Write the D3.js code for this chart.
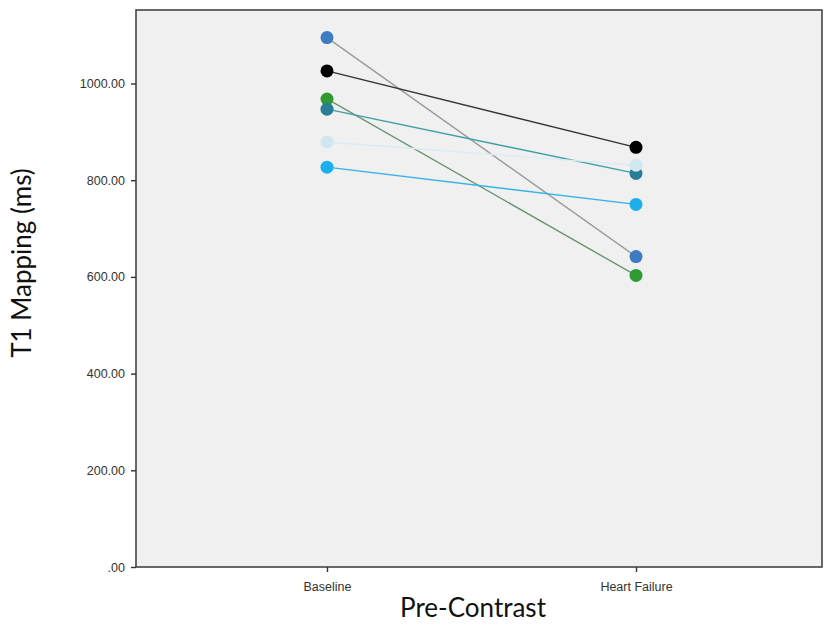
<!DOCTYPE html>
<html><head><meta charset="utf-8">
<script src="https://cdn.jsdelivr.net/npm/d3@7"></script>
<style>body{margin:0;background:#fff;} svg{display:block;}</style>
</head><body>
<svg id="chart" width="825" height="634"></svg>
<script>
const categories = ["Baseline", "Heart Failure"];
const subjects = ["s1", "s2", "s3", "s4", "s5", "s6"];
const baselineValues = [1095, 1026, 968, 947, 879, 827];
const heartFailureValues = [642, 868, 603, 814, 831, 750];
const pointColors = ["#3d7cc0", "#000000", "#2f9a32", "#2a7d96", "#cfe7ee", "#1bb0ec"];
const lineColors = ["#9a9a9a", "#333333", "#6b9470", "#3e9ea8", "#d9ecf1", "#35b2e6"];
const yTicks = [0, 200, 400, 600, 800, 1000];

(function () {
const svg = d3.select("#chart");
const pLeft = 136, pRight = 822, pTop = 10, pBottom = 567;

const x = d3.scalePoint().domain(categories).range([327, 636]);
const y = d3.scaleLinear().domain([0, 1000]).range([pBottom, 83.5]);

svg.append("rect").attr("x", pLeft).attr("y", pTop).attr("width", pRight - pLeft).attr("height", pBottom - pTop)
  .attr("fill", "#f0f0f0");

svg.append("rect").attr("x", pLeft).attr("y", pTop).attr("width", pRight - pLeft).attr("height", pBottom - pTop)
  .attr("fill", "none").attr("stroke", "#444").attr("stroke-width", 1.6);

const yAxis = d3.axisLeft(y).tickValues(yTicks).tickSize(5).tickPadding(6)
  .tickFormat(d => d === 0 ? ".00" : d3.format(".2f")(d));
const gy = svg.append("g").attr("transform", `translate(${pLeft},0)`).call(yAxis);
gy.select(".domain").remove();
gy.selectAll("line").attr("stroke", "#333").attr("stroke-width", 1.4);
gy.selectAll("text").attr("font-family", "Liberation Sans, Arial, sans-serif").attr("font-size", 12.5).attr("fill", "#333");

const xAxis = d3.axisBottom(x).tickSize(5).tickPadding(10);
const gx = svg.append("g").attr("transform", `translate(0,${pBottom})`).call(xAxis);
gx.select(".domain").remove();
gx.selectAll("line").attr("stroke", "#333").attr("stroke-width", 1.4);
gx.selectAll("text").attr("font-family", "Liberation Sans, Arial, sans-serif").attr("font-size", 12.5).attr("fill", "#333");

const g = svg.append("g");
subjects.forEach((s, i) => {
  g.append("line")
    .attr("x1", x(categories[0])).attr("y1", y(baselineValues[i]))
    .attr("x2", x(categories[1])).attr("y2", y(heartFailureValues[i]))
    .attr("stroke", lineColors[i]).attr("stroke-width", 1.4);
});
subjects.forEach((s, i) => {
  [baselineValues[i], heartFailureValues[i]].forEach((v, j) => {
    g.append("circle").attr("cx", x(categories[j])).attr("cy", y(v)).attr("r", 6.5)
      .attr("fill", pointColors[i]);
  });
});

svg.append("text").attr("x", 473).attr("y", 617).attr("text-anchor", "middle")
  .attr("font-family", "Lato, 'Open Sans', sans-serif").attr("font-size", 26).attr("fill", "#111")
  .text("Pre-Contrast");
svg.append("text").attr("transform", "translate(31,263) rotate(-90)").attr("text-anchor", "middle")
  .attr("font-family", "Lato, 'Open Sans', sans-serif").attr("font-size", 26).attr("fill", "#111")
  .text("T1 Mapping (ms)");
})();
</script>
</body></html>
